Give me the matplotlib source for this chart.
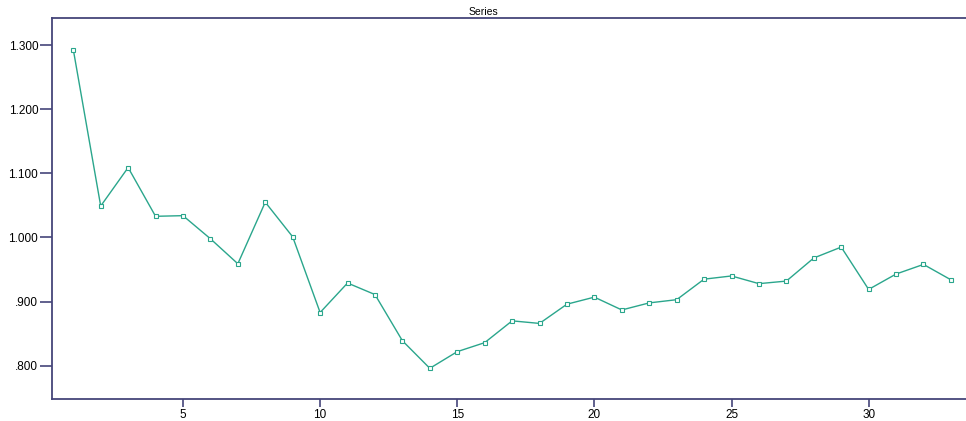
import matplotlib
matplotlib.use("Agg")
import matplotlib.pyplot as plt
from matplotlib.ticker import FuncFormatter

plt.rcParams['font.family'] = ['Liberation Sans', 'DejaVu Sans']

# sequence index and series values
idx = list(range(1, 34))
series = [1.293, 1.049, 1.109, 1.033, 1.034, 0.998, 0.959, 1.055, 1.001, 0.883,
          0.929, 0.911, 0.839, 0.796, 0.822, 0.836, 0.870, 0.866, 0.896, 0.907,
          0.887, 0.898, 0.903, 0.935, 0.940, 0.928, 0.932, 0.968, 0.985, 0.919,
          0.943, 0.958, 0.934]
yticks = [0.8, 0.9, 1.0, 1.1, 1.2, 1.3]
xticks = [5, 10, 15, 20, 25, 30]

line_col = '#2aa68c'
axis_col = '#45457a'

fig = plt.figure(figsize=(9.66, 4.21), dpi=100)
ax = fig.add_axes([0.054, 0.052, 0.946, 0.905])

ax.plot(idx, series, color=line_col, linewidth=1.0, marker='s', markersize=3,
        markerfacecolor='white', markeredgecolor=line_col, markeredgewidth=0.8)

ax.set_xlim(0.23, 33.55)
ax.set_ylim(0.748, 1.342)
ax.set_xticks(xticks)
ax.set_yticks(yticks)

def lead_zero(v, pos):
    s = '%.3f' % v
    return s[1:] if s.startswith('0') else s

ax.yaxis.set_major_formatter(FuncFormatter(lead_zero))
ax.tick_params(axis='y', length=9, width=1.2, color=axis_col, labelsize=8.5, pad=1)
ax.tick_params(axis='x', length=6, width=1.2, color=axis_col, labelsize=8.5, pad=1)

for side in ['left', 'bottom', 'top']:
    ax.spines[side].set_color(axis_col)
    ax.spines[side].set_linewidth(1.3)
ax.spines['right'].set_visible(False)

# title sits over the top frame line, centred on the whole figure
fig.text(0.5, 0.972, 'Series', fontsize=7.5, ha='center', va='center')

fig.savefig('out.png', dpi=100)
